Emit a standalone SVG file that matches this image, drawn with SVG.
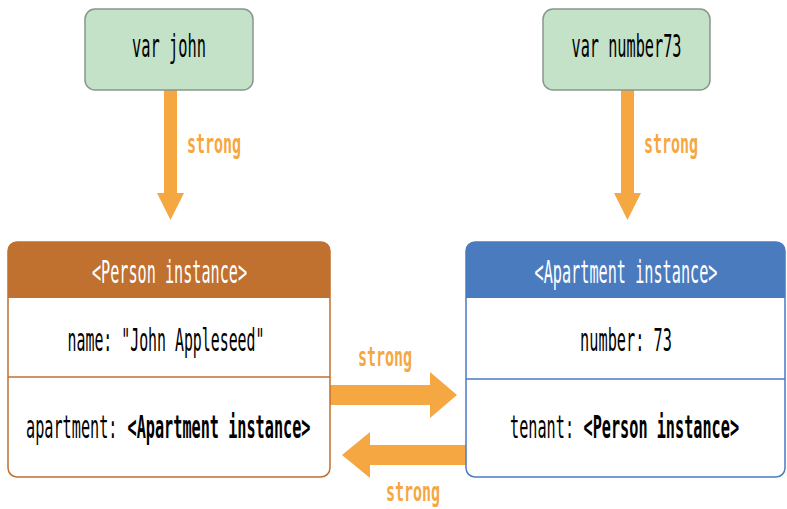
<svg xmlns="http://www.w3.org/2000/svg" width="787" height="509" viewBox="0 0 787 509">
<style>
text{font-family:"DejaVu Sans Mono","Liberation Mono",monospace;font-size:32px;text-anchor:middle}
.var{fill:#c3e2c8;stroke:#8a958c;stroke-width:1.5}
.lbl{fill:#f5a742;font-weight:bold;font-size:27px}
.arr{fill:#f5a742}
.hdr{fill:#ffffff}
.b{font-weight:bold}
.s{text-anchor:start}
</style>
<rect width="787" height="509" fill="#ffffff"/>
<g id="connectors">
  <polygon class="arr" points="164,90 177,90 177,193 184,193 170.5,220 157,193 164,193"/>
  <polygon class="arr" points="621,90 634,90 634,193 641,193 627.5,220 614,193 621,193"/>
  <polygon class="arr" points="330,385 430,385 430,372 457,395 430,418 430,405 330,405"/>
  <polygon class="arr" points="466,445 370,445 370,432 342,455 370,478 370,465 466,465"/>
  <text class="lbl" transform="translate(214,153) scale(0.555,1)">strong</text>
  <text class="lbl" transform="translate(671,153) scale(0.555,1)">strong</text>
  <text class="lbl" transform="translate(385,366) scale(0.555,1)">strong</text>
  <text class="lbl" transform="translate(413,501) scale(0.555,1)">strong</text>
</g>
<g id="var-john">
  <rect class="var" x="85" y="9" width="168" height="81" rx="10"/>
  <text transform="translate(169,57) scale(0.48,1)">var john</text>
</g>
<g id="var-number73">
  <rect class="var" x="543" y="9" width="167" height="81" rx="10"/>
  <text transform="translate(626.5,57) scale(0.476,1)">var number73</text>
</g>
<g id="person-instance">
  <rect x="8" y="242" width="322" height="235" rx="9" fill="#ffffff" stroke="#c0702f" stroke-width="1.5"/>
  <path d="M8,298 V251 a9,9 0 0 1 9,-9 H321 a9,9 0 0 1 9,9 V298 Z" fill="#c0702f"/>
  <line x1="8" y1="377" x2="330" y2="377" stroke="#c0702f" stroke-width="1.5"/>
  <text class="hdr" transform="translate(169.5,283) scale(0.474,1)">&lt;Person instance&gt;</text>
  <text transform="translate(166,351) scale(0.465,1)">name: "John Appleseed"</text>
  <text class="s" transform="translate(26,438) scale(0.475,1)">apartment:</text>
  <text class="s b" transform="translate(127.5,438) scale(0.475,1)">&lt;Apartment instance&gt;</text>
</g>
<g id="apartment-instance">
  <rect x="466" y="242" width="319" height="235" rx="9" fill="#ffffff" stroke="#4b7bbf" stroke-width="1.5"/>
  <path d="M466,298 V251 a9,9 0 0 1 9,-9 H776 a9,9 0 0 1 9,9 V298 Z" fill="#4b7bbf"/>
  <line x1="466" y1="379" x2="785" y2="379" stroke="#4b7bbf" stroke-width="1.5"/>
  <text class="hdr" transform="translate(626,283) scale(0.475,1)">&lt;Apartment instance&gt;</text>
  <text transform="translate(626,351) scale(0.477,1)">number: 73</text>
  <text class="s" transform="translate(510,438) scale(0.475,1)">tenant:</text>
  <text class="s b" transform="translate(583.5,438) scale(0.475,1)">&lt;Person instance&gt;</text>
</g>
</svg>
